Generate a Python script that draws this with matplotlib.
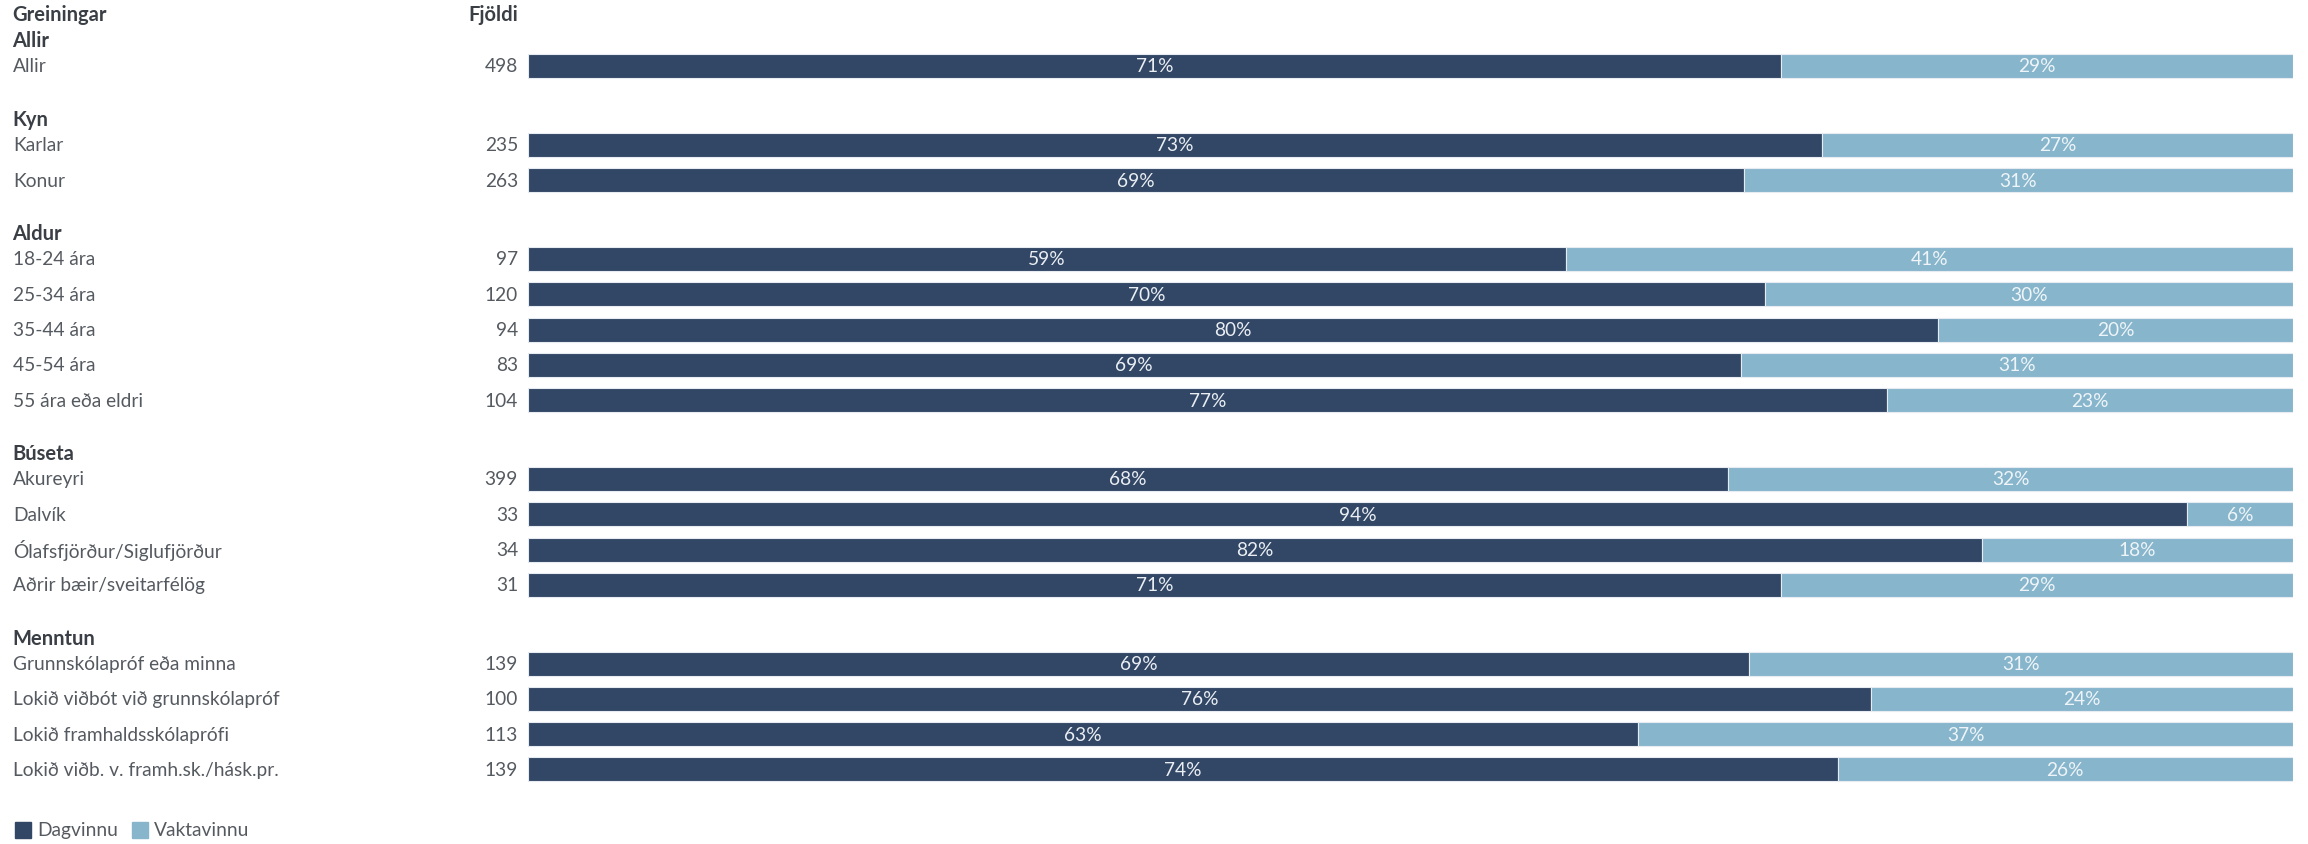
import matplotlib
matplotlib.use("Agg")
import matplotlib.pyplot as plt
from matplotlib.patches import Rectangle

plt.rcParams['font.family'] = ['Lato', 'DejaVu Sans']

groups = ["Allir", "Kyn", "Aldur", "Búseta", "Menntun"]
categories = [
    ["Allir"],
    ["Karlar", "Konur"],
    ["18-24 ára", "25-34 ára", "35-44 ára", "45-54 ára", "55 ára eða eldri"],
    ["Akureyri", "Dalvík", "Ólafsfjörður/Siglufjörður", "Aðrir bæir/sveitarfélög"],
    ["Grunnskólapróf eða minna", "Lokið viðbót við grunnskólapróf",
     "Lokið framhaldsskólaprófi", "Lokið viðb. v. framh.sk./hásk.pr."],
]
counts = [
    [498],
    [235, 263],
    [97, 120, 94, 83, 104],
    [399, 33, 34, 31],
    [139, 100, 113, 139],
]
dagvinnu = [
    [71.0],
    [73.3, 68.9],
    [58.8, 70.1, 79.9, 68.7, 77.0],
    [68.0, 94.0, 82.4, 71.0],
    [69.2, 76.1, 62.9, 74.2],
]
vaktavinnu = [
    [29.0],
    [26.7, 31.1],
    [41.2, 29.9, 20.1, 31.3, 23.0],
    [32.0, 6.0, 17.6, 29.0],
    [30.8, 23.9, 37.1, 25.8],
]
series_names = ["Dagvinnu", "Vaktavinnu"]

W, H = 2308, 845
DARK = "#324665"
LIGHT = "#86b5cc"
LABEL = "#555a60"
HEAD = "#3a3f45"

fig = plt.figure(figsize=(W / 100, H / 100), dpi=100)
tax = fig.add_axes([0, 0, 1, 1])
tax.set_xlim(0, W)
tax.set_ylim(H, 0)
tax.axis("off")

bar_left, bar_right = 528, 2293
ax = fig.add_axes([bar_left / W, 0, (bar_right - bar_left) / W, 1])
ax.set_xlim(0, 100)
ax.set_ylim(H, 0)
ax.axis("off")

fs_b = 14.5
fs = 13.8
y = 67.0
pitch = 35.3
group_gap = 78.8
bar_h = 24

tax.text(12, 15, "Greiningar", fontsize=fs_b, fontweight="bold", color=HEAD, va="center", ha="left")
tax.text(518, 15, "Fjöldi", fontsize=fs_b, fontweight="bold", color=HEAD, va="center", ha="right")

for gi, g in enumerate(groups):
    if gi > 0:
        y += group_gap - pitch
    tax.text(12, y - 26, g, fontsize=fs_b, fontweight="bold", color=HEAD, va="center", ha="left")
    for ci, cat in enumerate(categories[gi]):
        d = dagvinnu[gi][ci]
        v = vaktavinnu[gi][ci]
        tax.text(13, y, cat, fontsize=fs, color=LABEL, va="center", ha="left")
        tax.text(518, y, str(counts[gi][ci]), fontsize=fs, color=LABEL, va="center", ha="right")
        ax.barh(y, d, left=0, height=bar_h, color=DARK, edgecolor="#e6ecf2", linewidth=0.8)
        ax.barh(y, v, left=d, height=bar_h, color=LIGHT, edgecolor="#e6ecf2", linewidth=0.8)
        ax.text(d / 2, y, f"{round(d)}%", fontsize=fs, color="#e9eef3", va="center", ha="center")
        ax.text(d + v / 2, y, f"{round(v)}%", fontsize=fs, color="#eef4f7", va="center", ha="center")
        y += pitch

ly = 831
for i, (name, col) in enumerate(zip(series_names, [DARK, LIGHT])):
    x0 = [15, 132][i]
    tax.add_patch(Rectangle((x0, ly - 8), 16, 16, color=col))
    tax.text(x0 + 22, ly, name, fontsize=fs, color=LABEL, va="center", ha="left")

fig.savefig("out.png", dpi=100)
